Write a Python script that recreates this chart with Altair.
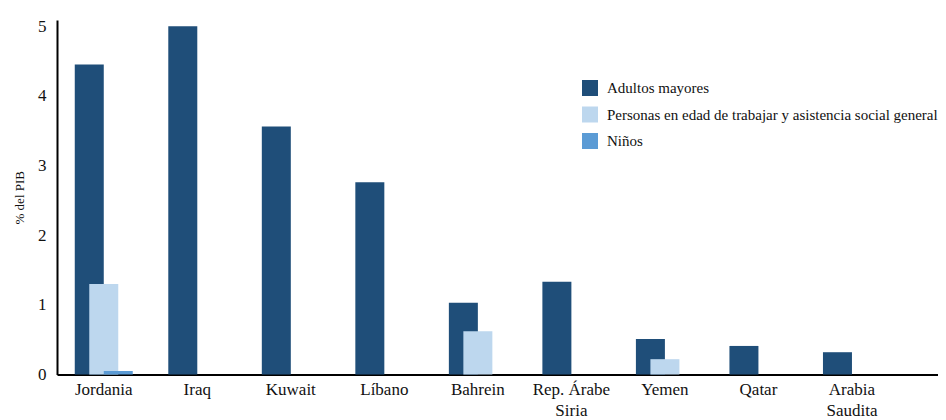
import altair as alt
import pandas as pd

countries = ["Jordania", "Iraq", "Kuwait", "Líbano", "Bahrein",
             "Rep. Árabe Siria", "Yemen", "Qatar", "Arabia Saudita"]
series = ["Adultos mayores",
          "Personas en edad de trabajar y asistencia social general",
          "Niños"]
adultos = [4.45, 5.0, 3.56, 2.76, 1.03, 1.33, 0.51, 0.41, 0.32]
trabajo = [1.30, 0.0, 0.0, 0.0, 0.62, 0.0, 0.22, 0.0, 0.0]
ninos = [0.05, 0.0, 0.0, 0.0, 0.0, 0.0, 0.0, 0.0, 0.0]
colors = ["#1F4E79", "#BDD7EE", "#5B9BD5"]
y_ticks = [0, 1, 2, 3, 4, 5]

rows = []
for vals, s in zip([adultos, trabajo, ninos], series):
    for c, v in zip(countries, vals):
        rows.append({"pais": c, "serie": s, "valor": v})
df = pd.DataFrame(rows)

FONT = "Liberation Serif"

x_enc = alt.X("pais:N", sort=countries, title=None,
              scale=alt.Scale(paddingInner=0, paddingOuter=0.21, align=0),
              axis=alt.Axis(labelAngle=0, ticks=False, domainColor="black",
                            domainWidth=2, labelFont=FONT, labelFontSize=17,
                            labelColor="#111", labelPadding=7,
                            labelLineHeight=21, labelBaseline="top",
                            labelExpr="length(datum.label) > 10 ? [slice(datum.label, 0, lastindexof(datum.label, ' ')), slice(datum.label, lastindexof(datum.label, ' ') + 1)] : datum.label"))
y_enc = alt.Y("valor:Q", title="% del PIB",
              scale=alt.Scale(domain=[0, 5.09], nice=False),
              axis=alt.Axis(values=y_ticks, ticks=False, grid=False,
                            domainColor="black", domainWidth=2,
                            labelFont=FONT, labelFontSize=17, labelColor="#111",
                            labelPadding=11, titleFont=FONT, titleFontSize=13,
                            titleFontWeight="normal", titleColor="#111",
                            titlePadding=11))
color_enc = alt.Color("serie:N", sort=series, title=None,
                      scale=alt.Scale(domain=series, range=colors),
                      legend=alt.Legend(orient="none", legendX=525, legendY=60,
                                        symbolType="square", symbolSize=256,
                                        symbolStrokeWidth=0, labelFont=FONT,
                                        labelFontSize=15, labelColor="#111",
                                        labelOffset=9, rowPadding=10.5,
                                        padding=0, labelLimit=500))

offsets = [-14.5, 0, 14.5]
layers = []
for s, off in zip(series, offsets):
    layers.append(
        alt.Chart(df).transform_filter(alt.datum.serie == s)
        .mark_bar(width=29, xOffset=off)
        .encode(x=x_enc, y=y_enc, color=color_enc)
    )

chart = alt.layer(*layers).properties(
    width=881, height=354.5,
    autosize=alt.AutoSizeParams(type="none"),
    padding={"left": 49, "top": 12, "right": 0, "bottom": 46},
).configure_view(stroke=None)

chart.save("out.html", embed_options={"renderer": "svg", "actions": False})
